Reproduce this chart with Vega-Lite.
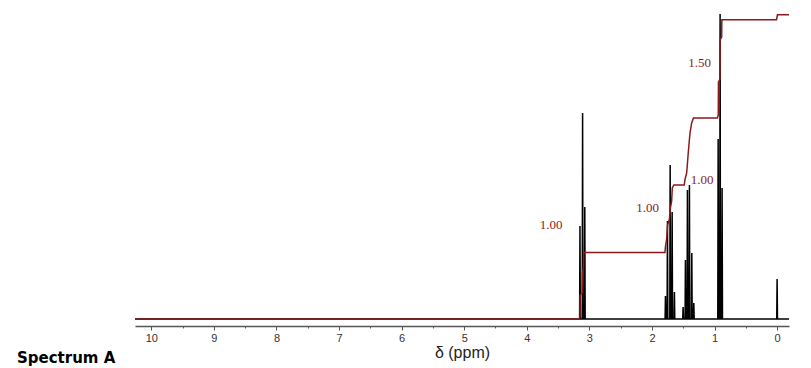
{
  "$schema": "https://vega.github.io/schema/vega-lite/v6.json",
  "width": 654,
  "height": 316,
  "autosize": {"type": "none"},
  "padding": {"left": 135, "top": 10, "right": 22, "bottom": 42},
  "background": "white",
  "config": {"view": {"stroke": null}},
  "title": {
    "text": "Spectrum A",
    "orient": "bottom",
    "anchor": "start",
    "frame": "group",
    "dx": -118,
    "offset": -9,
    "font": "DejaVu Sans",
    "fontSize": 15,
    "fontWeight": "bold",
    "color": "#000000"
  },
  "datasets": {
    "spectrum": [
      {"ppm": 10.26, "v": 0},
      {"ppm": 3.156, "v": 0}, {"ppm": 3.150, "v": 93}, {"ppm": 3.144, "v": 0},
      {"ppm": 3.114, "v": 0}, {"ppm": 3.108, "v": 206}, {"ppm": 3.102, "v": 0},
      {"ppm": 3.079, "v": 0}, {"ppm": 3.073, "v": 112}, {"ppm": 3.067, "v": 0},
      {"ppm": 1.790, "v": 0}, {"ppm": 1.784, "v": 23}, {"ppm": 1.778, "v": 0},
      {"ppm": 1.758, "v": 0}, {"ppm": 1.752, "v": 98}, {"ppm": 1.746, "v": 0},
      {"ppm": 1.715, "v": 0}, {"ppm": 1.709, "v": 154}, {"ppm": 1.703, "v": 0},
      {"ppm": 1.683, "v": 0}, {"ppm": 1.677, "v": 107}, {"ppm": 1.671, "v": 0},
      {"ppm": 1.647, "v": 0}, {"ppm": 1.641, "v": 27}, {"ppm": 1.635, "v": 0},
      {"ppm": 1.508, "v": 0}, {"ppm": 1.502, "v": 12}, {"ppm": 1.496, "v": 0},
      {"ppm": 1.471, "v": 0}, {"ppm": 1.465, "v": 59}, {"ppm": 1.459, "v": 0},
      {"ppm": 1.439, "v": 0}, {"ppm": 1.433, "v": 129}, {"ppm": 1.427, "v": 0},
      {"ppm": 1.407, "v": 0}, {"ppm": 1.401, "v": 134}, {"ppm": 1.395, "v": 0},
      {"ppm": 1.369, "v": 0}, {"ppm": 1.363, "v": 66}, {"ppm": 1.357, "v": 0},
      {"ppm": 1.337, "v": 0}, {"ppm": 1.331, "v": 16}, {"ppm": 1.325, "v": 0},
      {"ppm": 0.948, "v": 0}, {"ppm": 0.942, "v": 180}, {"ppm": 0.936, "v": 0},
      {"ppm": 0.917, "v": 0}, {"ppm": 0.911, "v": 305}, {"ppm": 0.905, "v": 0},
      {"ppm": 0.885, "v": 0}, {"ppm": 0.879, "v": 131}, {"ppm": 0.873, "v": 0},
      {"ppm": 0.006, "v": 0}, {"ppm": 0.000, "v": 40}, {"ppm": -0.006, "v": 0},
      {"ppm": -0.19, "v": 0}
    ],
    "integral": [
      {"ppm": 10.26, "v": 0}, {"ppm": 3.162, "v": 0}, {"ppm": 3.150, "v": 2}, {"ppm": 3.147, "v": 24},
      {"ppm": 3.115, "v": 26}, {"ppm": 3.110, "v": 47}, {"ppm": 3.095, "v": 50}, {"ppm": 3.090, "v": 66.6},
      {"ppm": 1.792, "v": 66.6}, {"ppm": 1.785, "v": 72}, {"ppm": 1.765, "v": 80}, {"ppm": 1.750, "v": 94},
      {"ppm": 1.720, "v": 100}, {"ppm": 1.705, "v": 111}, {"ppm": 1.685, "v": 118}, {"ppm": 1.675, "v": 131},
      {"ppm": 1.650, "v": 134},
      {"ppm": 1.485, "v": 134}, {"ppm": 1.470, "v": 140}, {"ppm": 1.445, "v": 146}, {"ppm": 1.420, "v": 166},
      {"ppm": 1.392, "v": 186}, {"ppm": 1.365, "v": 196}, {"ppm": 1.337, "v": 201},
      {"ppm": 0.955, "v": 201}, {"ppm": 0.940, "v": 204}, {"ppm": 0.937, "v": 237}, {"ppm": 0.913, "v": 240},
      {"ppm": 0.910, "v": 279}, {"ppm": 0.886, "v": 282}, {"ppm": 0.883, "v": 299.3},
      {"ppm": 0.010, "v": 299.3}, {"ppm": 0.000, "v": 302}, {"ppm": -0.005, "v": 304.3}, {"ppm": -0.19, "v": 304.3}
    ],
    "labels": [
      {"ppm": 3.61, "v": 94, "text": "1.00"},
      {"ppm": 2.07, "v": 111, "text": "1.00"},
      {"ppm": 1.20, "v": 139, "text": "1.00"},
      {"ppm": 1.24, "v": 256, "text": "1.50"}
    ]
  },
  "encoding": {
    "x": {
      "field": "ppm",
      "type": "quantitative",
      "scale": {"domain": [10.26, -0.19], "nice": false, "zero": false},
      "axis": {
        "title": "δ (ppm)",
        "values": [0, 0.5, 1, 1.5, 2, 2.5, 3, 3.5, 4, 4.5, 5, 5.5, 6, 6.5, 7, 7.5, 8, 8.5, 9, 9.5, 10],
        "labelExpr": "datum.value % 1 === 0 ? format(datum.value, 'd') : ''",
        "grid": false,
        "domainColor": "#555555",
        "domainWidth": 1.5,
        "tickColor": "#555555",
        "tickWidth": 1,
        "tickSize": {"condition": {"test": "datum.value % 1 === 0", "value": 4}, "value": 2},
        "labelFont": "Liberation Sans",
        "labelFontSize": 11,
        "labelColor": "#333333",
        "labelPadding": 2,
        "labelFlush": false,
        "labelOverlap": false,
        "titleFont": "Liberation Sans",
        "titleFontSize": 16,
        "titleFontWeight": "normal",
        "titleColor": "#222222",
        "titlePadding": 1
      }
    },
    "y": {
      "field": "v",
      "type": "quantitative",
      "scale": {"domain": [-7, 309], "nice": false, "zero": false},
      "axis": null
    }
  },
  "layer": [
    {
      "data": {"name": "spectrum"},
      "mark": {"type": "line", "color": "#000000", "strokeWidth": 1.5, "interpolate": "linear"}
    },
    {
      "data": {"name": "integral"},
      "mark": {"type": "line", "color": "#8b1a1a", "strokeWidth": 1.5, "interpolate": "linear"}
    },
    {
      "data": {"name": "labels"},
      "mark": {"type": "text", "font": "Liberation Serif", "fontSize": 13, "color": "#8b1a1a", "align": "center", "baseline": "middle"},
      "encoding": {"text": {"field": "text", "type": "nominal"}}
    }
  ]
}
